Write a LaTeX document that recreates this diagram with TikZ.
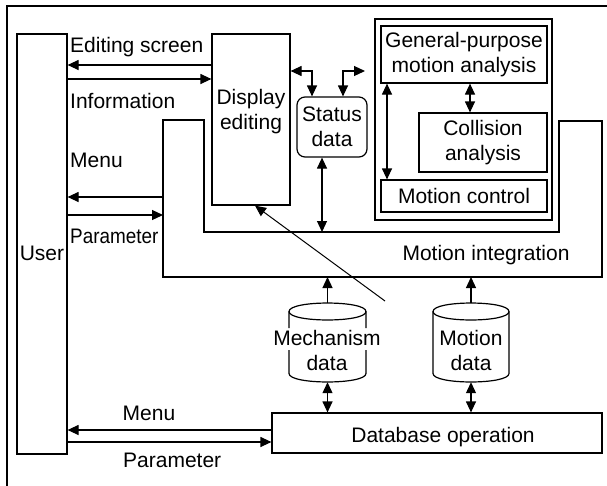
\documentclass[tikz,border=0pt]{standalone}
\usepackage{fontspec}
\usepackage{graphicx}
\setmainfont{Liberation Sans}
\usetikzlibrary{arrows.meta}
\begin{document}
\begin{tikzpicture}[x=1pt,y=-1pt,
  every node/.style={font=\fontsize{21}{25}\selectfont, inner sep=0pt},
  box/.style={draw, line width=1.2pt, rectangle},
  lbl/.style={align=center},
  arr/.style={line width=1.2pt, -{Triangle[length=11pt,width=10pt]}},
  darr/.style={line width=1.2pt, {Triangle[length=11pt,width=10pt]}-{Triangle[length=11pt,width=10pt]}},
  thinl/.style={line width=1.2pt}]
\clip (0,0) rectangle (607,485);
\useasboundingbox (0,0) rectangle (607,485);
% outer frame (only top and left edges visible)
\draw[thinl] (7,6) rectangle (650,530);

% boxes
\node[box, minimum width=50, minimum height=420] (user) at (42,244) {};
\node (usertxt) at (42,253) {User};
\node[box, minimum width=78, minimum height=171] (disp) at (251,119.5) {};
\node[lbl] (disptxt) at (251,112) {Display\\editing};
\node[box, lbl, rounded corners=8pt, minimum width=70, minimum height=60] (status) at (332,127) {Status\\data};
\node[box, minimum width=177, minimum height=201] (grp) at (463.5,119.5) {};
\node[box, lbl, minimum width=166, minimum height=57] (gp) at (464,54.5) {General-purpose\\motion analysis};
\node[box, lbl, minimum width=128, minimum height=59] (col) at (483,142.5) {Collision\\analysis};
\node[box, minimum width=166, minimum height=32] (mc) at (464,196) {Motion control};
\node[box, minimum width=330, minimum height=40] (db) at (437,433) {};
\node (dbtxt) at (443,437) {Database operation};

% motion integration outline
\coordinate (mi1) at (163,120);
\coordinate (mi2) at (204,120);
\coordinate (mi3) at (204,232);
\coordinate (mi4) at (559,232);
\coordinate (mi5) at (559,121);
\coordinate (mi6) at (602,121);
\coordinate (mi7) at (602,277);
\coordinate (mi8) at (163,277);
\draw[thinl] (mi1) -- (mi2) -- (mi3) -- (mi4) -- (mi5) -- (mi6) -- (mi7) -- (mi8) -- cycle;
\node (mitxt) at (486,255) {Motion integration};

% cylinders
\node[minimum width=77, minimum height=79] (mech) at (327.5,342.5) {};
\draw[thinl] (289,311.5) .. controls (289,300.2) and (366,300.2) .. (366,311.5) .. controls (366,322.8) and (289,322.8) .. (289,311.5);
\draw[thinl] (289,311.5) -- (289,328) (289,350) -- (289,373.5) .. controls (289,384.8) and (366,384.8) .. (366,373.5) -- (366,350) (366,328) -- (366,311.5);
\node[lbl] (mechtxt) at (327,350) {Mechanism\\data};

\node[minimum width=76, minimum height=79] (mdat) at (471,342.5) {};
\draw[thinl] (433,311.5) .. controls (433,300.2) and (509,300.2) .. (509,311.5) .. controls (509,322.8) and (433,322.8) .. (433,311.5);
\draw[thinl] (433,311.5) -- (433,373.5) .. controls (433,384.8) and (509,384.8) .. (509,373.5) -- (509,311.5);
\node[lbl] (mdattxt) at (471,350) {Motion\\data};

% connectors
\draw[arr] (disp.west |- 0,65) -- (user.east |- 0,65);
\draw[arr] (user.east |- 0,79) -- (disp.west |- 0,79);
\draw[arr] (mi1 |- 0,197) -- (user.east |- 0,197);
\draw[arr] (user.east |- 0,215) -- (mi1 |- 0,215);
\draw[darr] (disp.east |- 0,71) -| (312,0 |- status.north);
\coordinate (grpin) at (365,71);
\draw[darr] (343,0 |- status.north) |- (grpin);
\draw[darr] (322,0 |- status.south) -- (322,0 |- mi3);
\draw[darr] (470,0 |- gp.south) -- (470,0 |- col.north);
\draw[darr] (387,0 |- gp.south) -- (387,0 |- mc.north);
\coordinate (diag) at (385,301);
\draw[arr, line width=1pt] (diag) -- (255,0 |- disp.south);
\draw[arr] (mech.north) -- (mech.north |- mi8);
\draw[arr] (mdat.north) -- (mdat.north |- mi8);
\draw[darr] (mech.south) -- (mech.south |- db.north);
\draw[darr] (mdat.south) -- (mdat.south |- db.north);
\draw[arr] (db.west |- 0,430) -- (user.east |- 0,430);
\draw[arr] (user.east |- 0,442) -- (db.west |- 0,442);

% labels
\node[anchor=west] (l1) at (70,47) {Editing screen};
\node[anchor=west] (l2) at (70,101) {Information};
\node[anchor=west] (l3) at (70,160) {Menu};
\node[anchor=west] (l4) at (70,236) {\scalebox{0.9}[1]{Parameter}};
\node (l5) at (149,413) {Menu};
\node[anchor=west] (l6) at (123,460) {Parameter};
\end{tikzpicture}
\end{document}
